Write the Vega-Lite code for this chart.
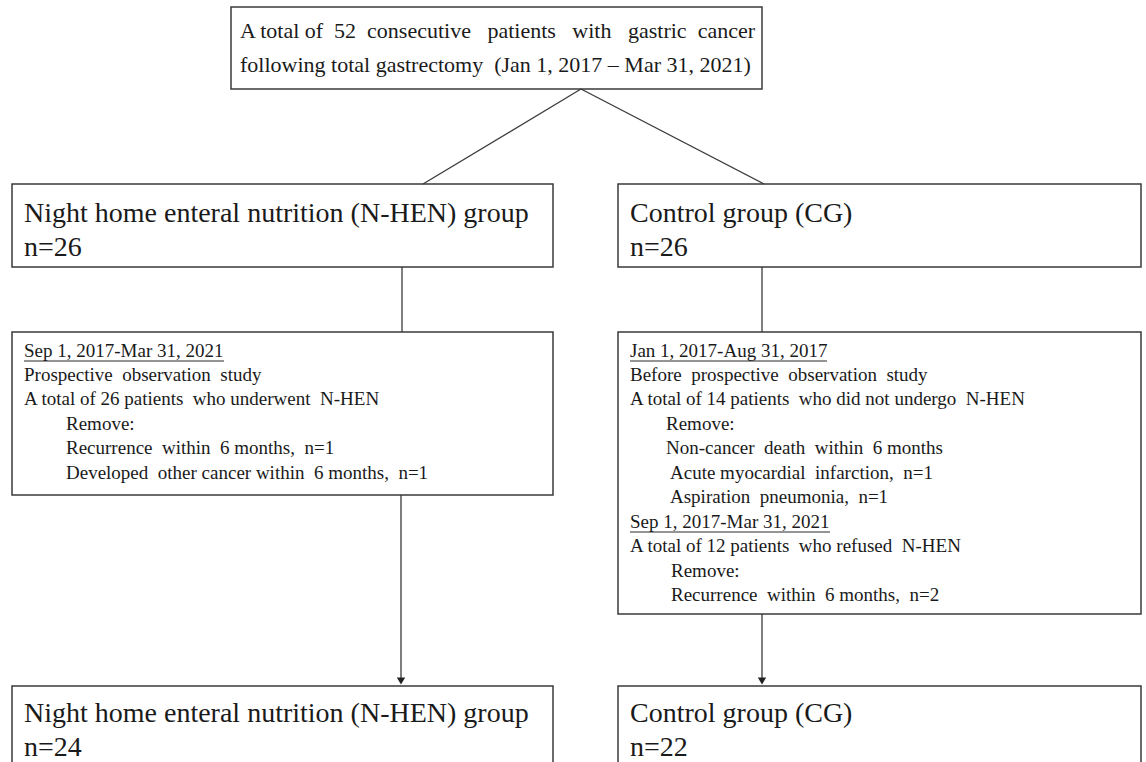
{
  "$schema": "https://vega.github.io/schema/vega-lite/v6.json",
  "width": 1146,
  "height": 762,
  "autosize": {"type": "fit", "contains": "padding"},
  "padding": 0,
  "background": "white",
  "config": {"view": {"stroke": null}},
  "datasets": {
    "boxes": [
      {"id": "top", "x": 231, "x2": 762, "y": 7, "y2": 89},
      {"id": "midL", "x": 12, "x2": 553, "y": 184, "y2": 267},
      {"id": "midR", "x": 618, "x2": 1141, "y": 184, "y2": 267},
      {"id": "detL", "x": 12, "x2": 553, "y": 332, "y2": 495},
      {"id": "detR", "x": 618, "x2": 1141, "y": 332, "y2": 614},
      {"id": "botL", "x": 12, "x2": 553, "y": 686, "y2": 800},
      {"id": "botR", "x": 618, "x2": 1141, "y": 686, "y2": 800}
    ],
    "links": [
      {"id": "diagL", "x": 581, "y": 89, "x2": 423, "y2": 184},
      {"id": "diagR", "x": 581, "y": 89, "x2": 764, "y2": 184},
      {"id": "vertL", "x": 402, "y": 267, "x2": 402, "y2": 332},
      {"id": "vertR", "x": 762, "y": 267, "x2": 762, "y2": 332},
      {"id": "arrowL", "x": 401, "y": 495, "x2": 401, "y2": 680},
      {"id": "arrowR", "x": 762, "y": 614, "x2": 762, "y2": 680}
    ],
    "underlines": [
      {"id": "u1", "x": 24, "y": 361, "x2": 224, "y2": 361},
      {"id": "u2", "x": 630, "y": 361, "x2": 827, "y2": 361},
      {"id": "u3", "x": 630, "y": 532, "x2": 830, "y2": 532}
    ],
    "heads": [
      {"id": "hL", "x": 401, "y": 681},
      {"id": "hR", "x": 762, "y": 681}
    ],
    "labels": [
      {"level": "top", "x": 240, "y": 31, "t": "A total of\u00a0 52\u00a0 consecutive\u00a0\u00a0 patients\u00a0\u00a0 with\u00a0\u00a0 gastric\u00a0 cancer"},
      {"level": "top", "x": 240, "y": 65, "t": "following total gastrectomy \u00a0(Jan 1, 2017 – Mar 31, 2021)"},
      {"level": "big", "x": 24, "y": 214, "t": "Night home enteral nutrition (N-HEN) group"},
      {"level": "big", "x": 24, "y": 248, "t": "n=26"},
      {"level": "big", "x": 630, "y": 214, "t": "Control group (CG)"},
      {"level": "big", "x": 630, "y": 248, "t": "n=26"},
      {"level": "big", "x": 24, "y": 714, "t": "Night home enteral nutrition (N-HEN) group"},
      {"level": "big", "x": 24, "y": 748, "t": "n=24"},
      {"level": "big", "x": 630, "y": 714, "t": "Control group (CG)"},
      {"level": "big", "x": 630, "y": 748, "t": "n=22"},
      {"level": "small", "x": 24, "y": 351, "t": "Sep 1, 2017-Mar 31, 2021"},
      {"level": "small", "x": 24, "y": 375, "t": "Prospective \u00a0observation \u00a0study"},
      {"level": "small", "x": 24, "y": 399, "t": "A total of 26 patients \u00a0who underwent \u00a0N-HEN"},
      {"level": "small", "x": 66, "y": 424, "t": "Remove:"},
      {"level": "small", "x": 66, "y": 448, "t": "Recurrence \u00a0within \u00a06 months, \u00a0n=1"},
      {"level": "small", "x": 66, "y": 473, "t": "Developed \u00a0other cancer within \u00a06 months, \u00a0n=1"},
      {"level": "small", "x": 630, "y": 351, "t": "Jan 1, 2017-Aug 31, 2017"},
      {"level": "small", "x": 630, "y": 375, "t": "Before \u00a0prospective \u00a0observation \u00a0study"},
      {"level": "small", "x": 630, "y": 399, "t": "A total of 14 patients \u00a0who did not undergo \u00a0N-HEN"},
      {"level": "small", "x": 666, "y": 424, "t": "Remove:"},
      {"level": "small", "x": 666, "y": 448, "t": "Non-cancer \u00a0death \u00a0within \u00a06 months"},
      {"level": "small", "x": 670, "y": 473, "t": "Acute myocardial \u00a0infarction, \u00a0n=1"},
      {"level": "small", "x": 670, "y": 497, "t": "Aspiration \u00a0pneumonia, \u00a0n=1"},
      {"level": "small", "x": 630, "y": 522, "t": "Sep 1, 2017-Mar 31, 2021"},
      {"level": "small", "x": 630, "y": 546, "t": "A total of 12 patients \u00a0who refused \u00a0N-HEN"},
      {"level": "small", "x": 671, "y": 571, "t": "Remove:"},
      {"level": "small", "x": 671, "y": 595, "t": "Recurrence \u00a0within \u00a06 months, \u00a0n=2"}
    ]
  },
  "layer": [
    {
      "data": {"name": "boxes"},
      "mark": {"type": "rect", "fill": "white", "stroke": "#3a3a3a", "strokeWidth": 1.5, "clip": true},
      "encoding": {
        "x": {"field": "x", "type": "quantitative", "axis": null, "scale": {"domain": [0, 1146], "nice": false, "zero": false}},
        "x2": {"field": "x2"},
        "y": {"field": "y", "type": "quantitative", "axis": null, "scale": {"domain": [0, 762], "nice": false, "zero": false, "reverse": true}},
        "y2": {"field": "y2"}
      }
    },
    {
      "data": {"name": "links"},
      "mark": {"type": "rule", "stroke": "#3a3a3a", "strokeWidth": 1.3},
      "encoding": {
        "x": {"field": "x", "type": "quantitative", "axis": null},
        "x2": {"field": "x2"},
        "y": {"field": "y", "type": "quantitative", "axis": null},
        "y2": {"field": "y2"}
      }
    },
    {
      "data": {"name": "underlines"},
      "mark": {"type": "rule", "stroke": "#2a2a2a", "strokeWidth": 1},
      "encoding": {
        "x": {"field": "x", "type": "quantitative", "axis": null},
        "x2": {"field": "x2"},
        "y": {"field": "y", "type": "quantitative", "axis": null},
        "y2": {"field": "y2"}
      }
    },
    {
      "data": {"name": "heads"},
      "mark": {"type": "point", "shape": "triangle-down", "filled": true, "color": "#222222", "size": 70, "opacity": 1},
      "encoding": {
        "x": {"field": "x", "type": "quantitative", "axis": null},
        "y": {"field": "y", "type": "quantitative", "axis": null}
      }
    },
    {
      "data": {"name": "labels"},
      "transform": [{"filter": "datum.level == 'top'"}],
      "mark": {"type": "text", "align": "left", "baseline": "middle", "font": "Liberation Serif", "fontSize": 22, "color": "#1a1a1a"},
      "encoding": {
        "x": {"field": "x", "type": "quantitative", "axis": null},
        "y": {"field": "y", "type": "quantitative", "axis": null},
        "text": {"field": "t"}
      }
    },
    {
      "data": {"name": "labels"},
      "transform": [{"filter": "datum.level == 'big'"}],
      "mark": {"type": "text", "align": "left", "baseline": "middle", "font": "Liberation Serif", "fontSize": 28, "color": "#1a1a1a"},
      "encoding": {
        "x": {"field": "x", "type": "quantitative", "axis": null},
        "y": {"field": "y", "type": "quantitative", "axis": null},
        "text": {"field": "t"}
      }
    },
    {
      "data": {"name": "labels"},
      "transform": [{"filter": "datum.level == 'small'"}],
      "mark": {"type": "text", "align": "left", "baseline": "middle", "font": "Liberation Serif", "fontSize": 19, "color": "#1a1a1a"},
      "encoding": {
        "x": {"field": "x", "type": "quantitative", "axis": null},
        "y": {"field": "y", "type": "quantitative", "axis": null},
        "text": {"field": "t"}
      }
    }
  ]
}
